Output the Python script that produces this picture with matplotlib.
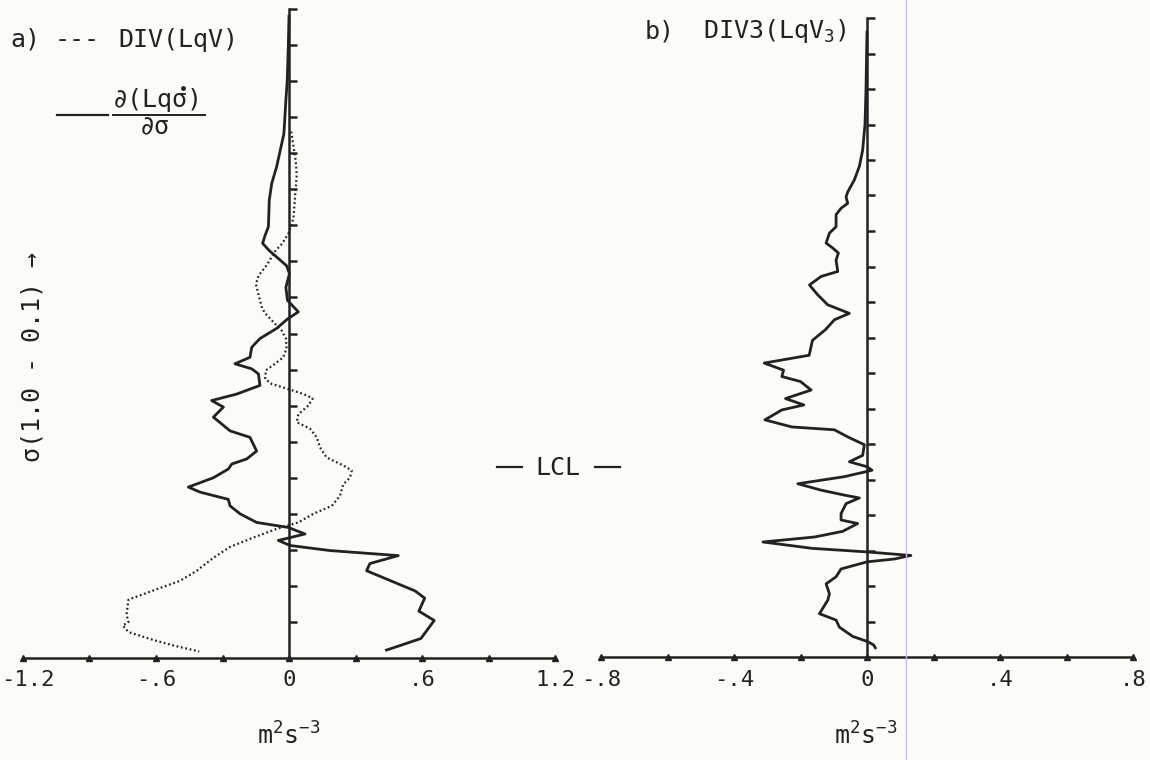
import numpy as np
import matplotlib.pyplot as plt
import matplotlib.lines as mlines
import matplotlib.transforms as mtransforms

W, H = 1150, 760
plt.rcParams['font.family'] = ['DejaVu Sans Mono', 'DejaVu Sans']
plt.rcParams['mathtext.fontset'] = 'custom'
plt.rcParams['mathtext.rm'] = 'DejaVu Sans Mono'
plt.rcParams['mathtext.it'] = 'DejaVu Sans Mono'
plt.rcParams['mathtext.bf'] = 'DejaVu Sans Mono'

INK = '#222222'
PAPER = '#fbfbf8'

# ---- panel a: d(Lq sigma-dot)/d sigma (solid) ----
sig_a_solid = [0.11, 0.15, 0.20, 0.226, 0.273, 0.319, 0.342, 0.365, 0.402, 0.414,
               0.425, 0.435, 0.446, 0.456, 0.467, 0.486, 0.504, 0.520, 0.530, 0.543,
               0.557, 0.569, 0.583, 0.592, 0.599, 0.606, 0.622, 0.634, 0.643, 0.652,
               0.666, 0.685, 0.694, 0.713, 0.724, 0.731, 0.738, 0.750, 0.763, 0.770,
               0.780, 0.789, 0.800, 0.812, 0.819, 0.828, 0.837, 0.844, 0.851, 0.858,
               0.869, 0.879, 0.907, 0.917, 0.935, 0.948, 0.973, 0.989]
dlq_a = [0.0, -0.003, -0.008, -0.014, -0.023, -0.056, -0.078, -0.089, -0.093, -0.108,
         -0.119, -0.089, -0.048, -0.011, 0.002, -0.014, -0.007, 0.042, -0.007, -0.056,
         -0.131, -0.168, -0.176, -0.244, -0.168, -0.138, -0.131, -0.236, -0.349, -0.296,
         -0.341, -0.266, -0.176, -0.146, -0.191, -0.258, -0.274, -0.341, -0.454, -0.401,
         -0.274, -0.266, -0.221, -0.146, -0.003, 0.072, -0.048, 0.005, 0.185, 0.493,
         0.365, 0.350, 0.569, 0.612, 0.586, 0.655, 0.595, 0.44]

# ---- panel a: DIV(LqV) (dotted) ----
sig_a_dot = [0.27, 0.29, 0.31, 0.33, 0.35, 0.37, 0.39, 0.41, 0.425, 0.436,
             0.455, 0.47, 0.482, 0.504, 0.513, 0.522, 0.534, 0.546, 0.557, 0.571,
             0.583, 0.592, 0.601, 0.613, 0.620, 0.627, 0.634, 0.640, 0.650, 0.662,
             0.673, 0.682, 0.694, 0.708, 0.722, 0.733, 0.740, 0.750, 0.759, 0.775,
             0.789, 0.800, 0.812, 0.821, 0.833, 0.846, 0.861, 0.879, 0.893, 0.905,
             0.919, 0.940, 0.950, 0.955, 0.964, 0.975, 0.983, 0.991]
div_a = [0.01, 0.02, 0.03, 0.035, 0.03, 0.025, 0.02, 0.0, -0.03, -0.063,
         -0.1, -0.138, -0.149, -0.131, -0.123, -0.108, -0.071, -0.033, -0.014, -0.011,
         -0.026, -0.063, -0.104, -0.108, -0.078, -0.003, 0.065, 0.107, 0.087, 0.042,
         0.035, 0.095, 0.125, 0.14, 0.17, 0.245, 0.283, 0.275, 0.245, 0.23,
         0.193, 0.11, 0.042, -0.056, -0.161, -0.266, -0.341, -0.416, -0.492, -0.6,
         -0.724, -0.733, -0.724, -0.75, -0.724, -0.612, -0.517, -0.405]

# ---- panel b: DIV3(LqV3) ----
sig_b = [0.12, 0.20, 0.25, 0.27, 0.286, 0.309, 0.328, 0.345, 0.352, 0.361,
         0.368, 0.377, 0.394, 0.403, 0.417, 0.424, 0.431, 0.441, 0.457, 0.464,
         0.476, 0.490, 0.504, 0.516, 0.525, 0.539, 0.554, 0.575, 0.586, 0.596,
         0.605, 0.612, 0.624, 0.636, 0.645, 0.652, 0.666, 0.676, 0.680, 0.690,
         0.701, 0.716, 0.725, 0.732, 0.737, 0.746, 0.756, 0.765, 0.772, 0.776,
         0.784, 0.798, 0.807, 0.812, 0.823, 0.831, 0.838, 0.847, 0.852, 0.857,
         0.862, 0.866, 0.876, 0.887, 0.897, 0.911, 0.920, 0.939, 0.948, 0.958,
         0.971, 0.978, 0.983, 0.987]
div3_b = [0.0, -0.003, -0.006, -0.01, -0.013, -0.023, -0.038, -0.058, -0.063, -0.058,
          -0.078, -0.093, -0.093, -0.113, -0.123, -0.103, -0.086, -0.093, -0.088, -0.138,
          -0.173, -0.148, -0.118, -0.053, -0.098, -0.125, -0.164, -0.174, -0.309, -0.251,
          -0.256, -0.2, -0.168, -0.245, -0.19, -0.256, -0.307, -0.226, -0.098, -0.058,
          -0.008, -0.013, -0.053, 0.0, 0.015, -0.068, -0.208, -0.138, -0.068, -0.023,
          -0.063, -0.078, -0.078, -0.028, -0.073, -0.158, -0.313, -0.164, 0.0, 0.132,
          0.082, 0.0, -0.078, -0.093, -0.123, -0.113, -0.118, -0.143, -0.093, -0.083,
          -0.043, 0.0, 0.02, 0.025]

# axis ticks
sig_ticks = [0.10, 0.15, 0.20, 0.25, 0.30, 0.35, 0.40, 0.45, 0.50, 0.55,
             0.60, 0.65, 0.70, 0.75, 0.80, 0.85, 0.90, 0.95]
xmarks_a = [-1.2, -0.9, -0.6, -0.3, 0.0, 0.3, 0.6, 0.9, 1.2]
xlab_a = [-1.2, -0.6, 0.0, 0.6, 1.2]
xlabtxt_a = ['-1.2', '-.6', '0', '.6', '1.2']
xmarks_b = [-0.8, -0.6, -0.4, -0.2, 0.0, 0.2, 0.4, 0.6, 0.8]
xlab_b = [-0.8, -0.4, 0.0, 0.4, 0.8]
xlabtxt_b = ['-.8', '-.4', '0', '.4', '.8']


def px_box(x0, x1, ytop, ybot):
    return [x0 / W, 1 - ybot / H, (x1 - x0) / W, (ybot - ytop) / H]


def setup_axis(ax, xmax, marks, labs, labtxt):
    ax.set_xlim(-xmax, xmax)
    ax.set_ylim(1.0, 0.1)
    ax.set_facecolor('none')
    for s in ['top', 'right']:
        ax.spines[s].set_visible(False)
    ax.spines['left'].set_position(('data', 0))
    for s in ['left', 'bottom']:
        ax.spines[s].set_linewidth(1.8)
        ax.spines[s].set_color(INK)
    ax.set_yticks(sig_ticks)
    ax.tick_params(axis='y', direction='in', length=6, width=1.8, color=INK,
                   labelleft=False)
    ax.set_xticks(labs, labtxt)
    ax.tick_params(axis='x', length=0, pad=9, labelsize=16, labelcolor=INK)
    # small triangular tick marks sitting on the axis line
    ax.plot(marks, [1.0] * len(marks), ls='none', marker='^', ms=5,
            color=INK, clip_on=False, zorder=5)


fig = plt.figure(figsize=(W / 100, H / 100), dpi=100)
fig.patch.set_facecolor(PAPER)

ax_a = fig.add_axes(px_box(23, 555, 9, 658))
setup_axis(ax_a, 1.2, xmarks_a, xlab_a, xlabtxt_a)
ax_a.plot(div_a, sig_a_dot, color=INK, lw=1.6, ls=(0, (0.8, 1.2)), clip_on=False)
ax_a.plot(dlq_a, sig_a_solid, color=INK, lw=2.0, clip_on=False)
# keep the leftmost label inside the page
first = ax_a.get_xticklabels()[0]
first.set_transform(first.get_transform() +
                    mtransforms.ScaledTranslation(5 / 100, 0, fig.dpi_scale_trans))

ax_b = fig.add_axes(px_box(601, 1133, 18, 657))
setup_axis(ax_b, 0.8, xmarks_b, xlab_b, xlabtxt_b)
ax_b.plot(div3_b, sig_b, color=INK, lw=2.0, clip_on=False)


def ftext(x, y, s, **kw):
    kw.setdefault('fontsize', 18)
    kw.setdefault('color', INK)
    return fig.text(x / W, 1 - y / H, s, **kw)


def fline(x0, x1, y0, y1, lw=1.6):
    fig.add_artist(mlines.Line2D([x0 / W, x1 / W], [1 - y0 / H, 1 - y1 / H],
                                 transform=fig.transFigure, color=INK, lw=lw))


# legend / titles
ftext(10, 47, 'a)', va='baseline')
ftext(55, 47, '---', va='baseline')
ftext(118, 47, 'DIV(LqV)', va='baseline')
fline(57, 108, 115, 115)
ftext(113, 107, '∂(Lqσ)', va='baseline')
# dot over sigma
fig.add_artist(mlines.Line2D([183 / W], [1 - 88 / H], transform=fig.transFigure,
                             marker='o', ms=2.5, color=INK, ls='none'))
fline(113, 205, 115, 115, lw=1.4)
ftext(140, 134, '∂σ', va='baseline')

ftext(645, 38, 'b)', va='baseline')
ftext(703, 38, 'DIV3(LqV$_3$)', va='baseline')

# LCL marker
ftext(558, 475, 'LCL', va='baseline', ha='center')
fline(497, 522, 467, 467)
fline(595, 620, 467, 467)

# axis titles
ftext(33, 357, 'σ(1.0 - 0.1) →', rotation=90, ha='center', va='center')
ftext(289, 745, 'm$^2$s$^{-3}$', ha='center', va='baseline')
ftext(866, 745, 'm$^2$s$^{-3}$', ha='center', va='baseline')

# scan artefact line
fig.add_artist(mlines.Line2D([906 / W, 906 / W], [0, 1], transform=fig.transFigure,
                             color='#d6b4f2', lw=1.0))

fig.savefig('out.png', dpi=100, facecolor=PAPER)
